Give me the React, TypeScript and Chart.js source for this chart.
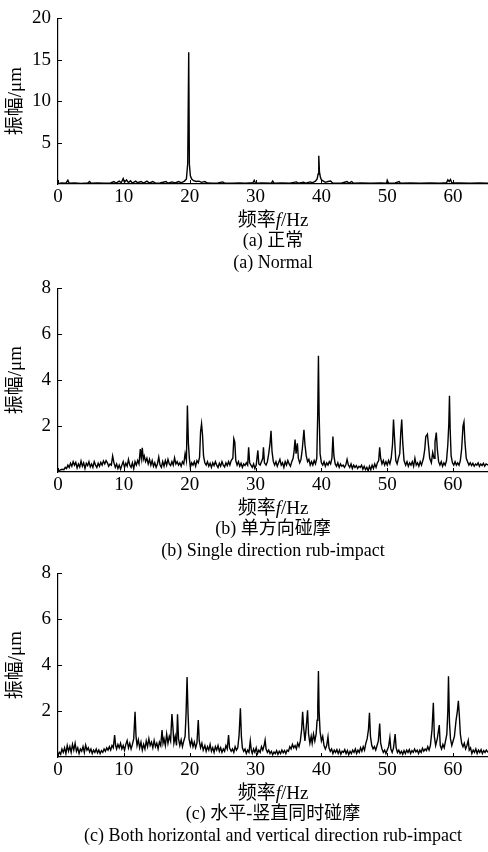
import React, { useEffect, useRef } from "react";
import { Chart, registerables } from "chart.js";

Chart.register(...registerables);

// ---- data (frequency Hz, amplitude μm) ----
const normalSpectrum: [number, number][] = [
  [0, 0.05], [0.5, 0.12], [1.2, 0.1], [1.5, 0.45], [1.7, 0.1], [2.5, 0.12], [3.5, 0.08], [4.5, 0.12], [4.8, 0.3], [5.0, 0.1],
  [6, 0.12], [7, 0.1], [8, 0.12], [8.5, 0.3], [8.8, 0.1], [9.3, 0.35], [9.6, 0.15], [9.9, 0.65], [10.1, 0.2], [10.4, 0.5],
  [10.7, 0.15], [11.0, 0.4], [11.3, 0.12], [11.8, 0.35], [12.1, 0.15], [12.6, 0.3], [13.0, 0.1], [13.5, 0.35], [13.9, 0.12], [14.4, 0.3],
  [14.8, 0.1], [15.5, 0.12], [16.4, 0.3], [16.7, 0.1], [17.3, 0.25], [17.8, 0.12], [18.3, 0.3], [18.7, 0.15], [19.2, 0.35], [19.5, 0.6],
  [19.7, 2.5], [19.85, 15.9], [19.95, 2.4], [20.1, 1.0], [20.3, 0.6], [20.6, 0.4], [21.0, 0.3], [21.4, 0.35], [21.8, 0.2], [22.3, 0.3],
  [22.7, 0.12], [23.5, 0.1], [24.3, 0.12], [25, 0.25], [25.3, 0.1], [26.5, 0.1], [27.5, 0.12], [28.5, 0.1], [29.6, 0.15], [29.8, 0.45],
  [30.0, 0.1], [31, 0.12], [32.4, 0.1], [32.6, 0.35], [32.8, 0.1], [34, 0.12], [35.2, 0.1], [36.2, 0.25], [36.5, 0.1], [37.3, 0.2],
  [37.6, 0.1], [38.3, 0.25], [38.6, 0.15], [39.1, 0.35], [39.35, 0.6], [39.5, 1.2], [39.6, 3.4], [39.7, 1.5], [39.85, 0.8], [40.0, 0.5],
  [40.3, 0.35], [40.6, 0.2], [41.0, 0.3], [41.4, 0.35], [41.7, 0.12], [42.3, 0.1], [43.1, 0.12], [43.9, 0.3], [44.2, 0.1], [44.6, 0.3],
  [44.9, 0.1], [46, 0.12], [47.5, 0.1], [49, 0.12], [49.9, 0.1], [50.0, 0.45], [50.2, 0.1], [51.2, 0.12], [51.8, 0.3], [52.0, 0.1],
  [53.5, 0.12], [55, 0.1], [56.5, 0.12], [58, 0.1], [59.0, 0.15], [59.2, 0.5], [59.4, 0.3], [59.6, 0.55], [59.8, 0.15], [61, 0.12],
  [62.5, 0.1], [64, 0.12], [65.3, 0.1],
];

const singleRubSpectrum: [number, number][] = [
  [0.0, 0.05], [0.3, 0.08], [0.6, 0.12], [0.9, 0.1], [1.1, 0.2], [1.3, 0.15], [1.5, 0.3], [1.7, 0.2], [1.9, 0.38], [2.1, 0.25],
  [2.3, 0.45], [2.5, 0.3], [2.7, 0.42], [2.9, 0.18], [3.1, 0.35], [3.3, 0.22], [3.5, 0.48], [3.7, 0.25], [3.9, 0.4], [4.1, 0.15],
  [4.3, 0.38], [4.5, 0.28], [4.7, 0.45], [4.9, 0.22], [5.1, 0.35], [5.3, 0.2], [5.5, 0.45], [5.7, 0.3], [5.9, 0.2], [6.1, 0.38],
  [6.3, 0.25], [6.5, 0.42], [6.7, 0.3], [6.9, 0.48], [7.1, 0.35], [7.3, 0.5], [7.5, 0.4], [7.7, 0.25], [7.9, 0.35], [8.1, 0.3],
  [8.3, 0.7], [8.5, 0.4], [8.7, 0.2], [8.9, 0.35], [9.1, 0.15], [9.3, 0.3], [9.5, 0.12], [9.7, 0.3], [9.9, 0.45], [10.1, 0.2],
  [10.3, 0.38], [10.5, 0.25], [10.7, 0.55], [10.9, 0.3], [11.1, 0.2], [11.3, 0.4], [11.5, 0.15], [11.7, 0.45], [11.9, 0.3], [12.1, 0.5],
  [12.3, 0.35], [12.5, 1.0], [12.65, 0.6], [12.8, 1.05], [12.95, 0.55], [13.1, 0.7], [13.3, 0.45], [13.5, 0.6], [13.7, 0.35], [13.9, 0.55],
  [14.1, 0.3], [14.3, 0.5], [14.5, 0.25], [14.7, 0.4], [14.9, 0.2], [15.1, 0.35], [15.3, 0.65], [15.5, 0.3], [15.7, 0.2], [15.9, 0.45],
  [16.1, 0.25], [16.3, 0.5], [16.5, 0.3], [16.7, 0.55], [16.9, 0.35], [17.1, 0.28], [17.3, 0.45], [17.5, 0.3], [17.7, 0.62], [17.9, 0.35],
  [18.1, 0.45], [18.3, 0.3], [18.5, 0.4], [18.7, 0.25], [18.9, 0.45], [19.1, 0.35], [19.3, 0.8], [19.5, 0.5], [19.65, 2.9], [19.8, 1.25],
  [19.95, 0.6], [20.1, 0.2], [20.3, 0.4], [20.5, 0.3], [20.7, 0.45], [20.9, 0.25], [21.1, 0.5], [21.3, 0.4], [21.5, 0.65], [21.65, 1.75],
  [21.8, 2.1], [21.95, 1.6], [22.1, 0.7], [22.3, 0.4], [22.5, 0.3], [22.7, 0.45], [22.9, 0.25], [23.1, 0.38], [23.3, 0.2], [23.5, 0.4],
  [23.7, 0.28], [23.9, 0.45], [24.1, 0.3], [24.3, 0.2], [24.5, 0.38], [24.7, 0.25], [24.9, 0.45], [25.1, 0.3], [25.3, 0.22], [25.5, 0.4],
  [25.7, 0.28], [25.9, 0.45], [26.1, 0.3], [26.3, 0.5], [26.55, 0.6], [26.7, 1.45], [26.85, 1.3], [27.0, 0.5], [27.2, 0.3], [27.4, 0.45],
  [27.6, 0.25], [27.8, 0.38], [28.0, 0.2], [28.2, 0.35], [28.4, 0.28], [28.6, 0.4], [28.8, 0.3], [28.95, 1.08], [29.1, 0.4], [29.3, 0.3],
  [29.5, 0.2], [29.7, 0.35], [29.9, 0.15], [30.1, 0.3], [30.35, 0.94], [30.5, 0.35], [30.7, 0.3], [30.9, 0.45], [31.1, 0.6], [31.2, 1.08],
  [31.35, 0.4], [31.6, 0.3], [31.8, 0.45], [32.0, 0.8], [32.2, 1.25], [32.35, 1.8], [32.5, 0.9], [32.7, 0.45], [32.9, 0.3], [33.1, 0.45],
  [33.3, 0.25], [33.5, 0.4], [33.7, 0.55], [33.9, 0.3], [34.1, 0.4], [34.3, 0.2], [34.5, 0.45], [34.7, 0.3], [34.9, 0.5], [35.1, 0.35],
  [35.3, 0.25], [35.5, 0.45], [35.7, 0.6], [35.85, 0.9], [36.0, 1.41], [36.15, 0.8], [36.35, 1.25], [36.5, 0.6], [36.7, 0.4], [36.9, 0.55],
  [37.1, 1.0], [37.35, 1.84], [37.5, 1.2], [37.7, 0.7], [37.9, 0.45], [38.1, 0.55], [38.3, 0.3], [38.5, 0.45], [38.7, 0.3], [38.9, 0.5],
  [39.1, 0.35], [39.3, 0.6], [39.45, 2.65], [39.55, 5.07], [39.65, 2.6], [39.8, 0.8], [40.0, 0.4], [40.2, 0.3], [40.4, 0.45], [40.6, 0.25],
  [40.8, 0.4], [41.0, 0.3], [41.2, 0.45], [41.4, 0.35], [41.6, 0.6], [41.75, 1.55], [41.9, 0.7], [42.1, 0.35], [42.3, 0.25], [42.5, 0.4],
  [42.7, 0.2], [42.9, 0.35], [43.1, 0.25], [43.3, 0.3], [43.5, 0.2], [43.7, 0.3], [43.9, 0.55], [44.1, 0.3], [44.3, 0.2], [44.5, 0.35],
  [44.7, 0.15], [44.9, 0.3], [45.1, 0.2], [45.3, 0.28], [45.5, 0.15], [45.7, 0.25], [45.9, 0.2], [46.1, 0.3], [46.3, 0.12], [46.5, 0.25],
  [46.7, 0.1], [46.9, 0.2], [47.1, 0.05], [47.3, 0.25], [47.5, 0.1], [47.7, 0.3], [47.9, 0.15], [48.1, 0.35], [48.3, 0.2], [48.5, 0.4],
  [48.7, 0.5], [48.85, 1.08], [49.0, 0.6], [49.2, 0.35], [49.4, 0.5], [49.6, 0.3], [49.8, 0.45], [50.0, 0.3], [50.2, 0.5], [50.4, 0.35],
  [50.6, 0.6], [50.8, 1.2], [50.95, 2.29], [51.1, 1.5], [51.3, 0.5], [51.5, 0.35], [51.7, 0.6], [51.9, 0.8], [52.05, 1.7], [52.2, 2.29],
  [52.35, 1.3], [52.55, 0.5], [52.8, 0.3], [53.0, 0.45], [53.2, 0.25], [53.4, 0.4], [53.6, 0.3], [53.8, 0.45], [54.0, 0.25], [54.2, 0.6],
  [54.4, 0.3], [54.6, 0.4], [54.8, 0.25], [55.0, 0.45], [55.2, 0.3], [55.5, 0.6], [55.7, 1.0], [55.85, 1.55], [56.0, 1.6], [56.1, 1.65],
  [56.25, 1.2], [56.45, 0.6], [56.7, 0.4], [56.9, 0.85], [57.1, 0.6], [57.25, 1.3], [57.45, 1.72], [57.6, 1.0], [57.8, 0.45], [58.0, 0.3],
  [58.2, 0.45], [58.4, 0.25], [58.6, 0.4], [58.8, 0.3], [59.0, 0.5], [59.2, 1.2], [59.35, 2.1], [59.45, 3.32], [59.55, 1.9], [59.7, 0.7],
  [59.9, 0.4], [60.1, 0.3], [60.3, 0.45], [60.5, 0.3], [60.7, 0.4], [60.9, 0.3], [61.1, 0.5], [61.3, 1.0], [61.5, 2.0], [61.65, 2.18],
  [61.8, 1.3], [62.0, 0.6], [62.2, 0.45], [62.4, 0.3], [62.6, 0.4], [62.8, 0.28], [63.0, 0.38], [63.2, 0.25], [63.4, 0.35], [63.6, 0.3],
  [63.8, 0.4], [64.0, 0.25], [64.2, 0.35], [64.4, 0.28], [64.6, 0.38], [64.8, 0.25], [65.0, 0.35], [65.3, 0.3],
];

const dualRubSpectrum: [number, number][] = [
  [0.0, 0.1], [0.2, 0.2], [0.4, 0.12], [0.6, 0.35], [0.8, 0.2], [1.0, 0.4], [1.2, 0.15], [1.4, 0.5], [1.6, 0.25], [1.8, 0.45],
  [2.0, 0.2], [2.2, 0.55], [2.4, 0.3], [2.6, 0.6], [2.8, 0.25], [3.0, 0.4], [3.2, 0.15], [3.4, 0.35], [3.6, 0.25], [3.8, 0.45],
  [4.0, 0.2], [4.2, 0.52], [4.4, 0.3], [4.6, 0.4], [4.8, 0.22], [5.0, 0.35], [5.2, 0.15], [5.4, 0.3], [5.6, 0.2], [5.8, 0.35],
  [6.0, 0.18], [6.2, 0.3], [6.4, 0.15], [6.6, 0.28], [6.8, 0.2], [7.0, 0.35], [7.2, 0.25], [7.4, 0.4], [7.6, 0.3], [7.8, 0.45],
  [8.0, 0.3], [8.2, 0.5], [8.4, 0.4], [8.6, 0.96], [8.75, 0.5], [8.9, 0.35], [9.1, 0.55], [9.3, 0.4], [9.5, 0.6], [9.7, 0.35],
  [9.9, 0.5], [10.1, 0.3], [10.3, 0.55], [10.5, 0.72], [10.7, 0.4], [10.9, 0.6], [11.1, 0.35], [11.3, 0.55], [11.5, 0.8], [11.7, 1.97],
  [11.85, 0.9], [12.0, 0.5], [12.2, 0.75], [12.4, 0.4], [12.6, 0.65], [12.8, 0.3], [13.0, 0.55], [13.2, 0.35], [13.4, 0.7], [13.6, 0.45],
  [13.8, 0.8], [14.0, 0.5], [14.2, 0.65], [14.4, 0.4], [14.6, 0.72], [14.8, 0.45], [15.0, 0.6], [15.2, 0.35], [15.4, 0.65], [15.6, 0.5],
  [15.8, 1.17], [15.95, 0.6], [16.1, 0.8], [16.3, 0.5], [16.5, 1.0], [16.7, 0.6], [16.9, 0.9], [17.1, 0.7], [17.3, 1.87], [17.45, 1.3],
  [17.6, 0.6], [17.8, 0.9], [18.0, 0.5], [18.15, 1.86], [18.3, 0.8], [18.5, 0.5], [18.7, 0.75], [18.9, 0.45], [19.1, 0.7], [19.3, 0.9],
  [19.45, 1.9], [19.6, 3.49], [19.75, 1.9], [19.9, 0.8], [20.1, 0.5], [20.3, 0.75], [20.5, 0.45], [20.7, 0.65], [20.9, 0.4], [21.1, 0.6],
  [21.3, 1.61], [21.45, 0.7], [21.65, 0.4], [21.85, 0.6], [22.05, 0.3], [22.3, 0.5], [22.5, 0.25], [22.7, 0.45], [22.9, 0.3], [23.1, 0.55],
  [23.3, 0.25], [23.5, 0.4], [23.7, 0.2], [23.9, 0.45], [24.1, 0.3], [24.3, 0.5], [24.5, 0.25], [24.7, 0.4], [24.9, 0.2], [25.1, 0.35],
  [25.3, 0.25], [25.5, 0.5], [25.7, 0.35], [25.9, 0.96], [26.05, 0.4], [26.3, 0.25], [26.5, 0.35], [26.7, 0.2], [26.9, 0.45], [27.1, 0.3],
  [27.3, 0.4], [27.5, 0.95], [27.7, 2.12], [27.85, 0.9], [28.0, 0.4], [28.2, 0.25], [28.4, 0.35], [28.6, 0.15], [28.8, 0.3], [29.0, 0.2],
  [29.2, 0.7], [29.35, 0.3], [29.5, 0.15], [29.7, 0.35], [29.9, 0.2], [30.1, 0.4], [30.3, 0.15], [30.5, 0.3], [30.7, 0.2], [30.9, 0.45],
  [31.1, 0.3], [31.3, 0.5], [31.45, 0.74], [31.6, 0.35], [31.8, 0.2], [32.0, 0.3], [32.2, 0.15], [32.4, 0.25], [32.6, 0.1], [32.8, 0.22],
  [33.0, 0.15], [33.2, 0.28], [33.4, 0.12], [33.6, 0.25], [33.8, 0.15], [34.0, 0.3], [34.2, 0.18], [34.4, 0.28], [34.6, 0.15], [34.8, 0.3],
  [35.0, 0.25], [35.2, 0.45], [35.4, 0.35], [35.6, 0.55], [35.8, 0.4], [36.0, 0.5], [36.2, 0.35], [36.4, 0.6], [36.6, 0.45], [36.8, 0.7],
  [37.0, 1.2], [37.15, 1.97], [37.3, 1.3], [37.5, 0.7], [37.7, 1.3], [37.9, 2.04], [38.05, 1.0], [38.25, 0.6], [38.45, 0.9], [38.6, 0.6],
  [38.8, 1.0], [39.0, 0.7], [39.2, 1.0], [39.35, 1.6], [39.45, 2.2], [39.55, 3.75], [39.65, 2.0], [39.8, 1.1], [40.0, 0.7], [40.2, 0.9],
  [40.4, 0.5], [40.6, 0.35], [40.8, 0.5], [41.0, 0.88], [41.15, 0.4], [41.35, 0.25], [41.55, 0.35], [41.75, 0.15], [41.95, 0.3], [42.15, 0.2],
  [42.35, 0.32], [42.55, 0.15], [42.75, 0.3], [42.95, 0.12], [43.15, 0.25], [43.35, 0.2], [43.55, 0.32], [43.75, 0.15], [43.95, 0.28], [44.15, 0.1],
  [44.35, 0.25], [44.55, 0.15], [44.75, 0.3], [44.95, 0.2], [45.15, 0.35], [45.35, 0.15], [45.55, 0.3], [45.75, 0.2], [45.95, 0.4], [46.15, 0.25],
  [46.35, 0.45], [46.55, 0.3], [46.75, 0.6], [46.95, 0.8], [47.15, 1.2], [47.3, 1.93], [47.45, 0.9], [47.65, 0.5], [47.85, 0.35], [48.05, 0.45],
  [48.25, 0.3], [48.45, 0.5], [48.65, 0.7], [48.85, 1.46], [49.0, 0.6], [49.2, 0.35], [49.4, 0.2], [49.6, 0.3], [49.8, 0.15], [50.0, 0.3],
  [50.2, 0.45], [50.4, 0.85], [50.55, 0.35], [50.75, 0.2], [50.95, 0.4], [51.2, 1.0], [51.35, 0.4], [51.55, 0.2], [51.75, 0.3], [51.95, 0.15],
  [52.15, 0.25], [52.35, 0.12], [52.55, 0.28], [52.75, 0.15], [52.95, 0.3], [53.15, 0.2], [53.35, 0.32], [53.55, 0.15], [53.75, 0.28], [53.95, 0.2],
  [54.15, 0.35], [54.35, 0.22], [54.55, 0.3], [54.75, 0.15], [54.95, 0.3], [55.15, 0.2], [55.35, 0.38], [55.55, 0.25], [55.75, 0.35], [55.95, 0.28],
  [56.15, 0.45], [56.35, 0.3], [56.55, 0.5], [56.8, 1.2], [57.0, 2.36], [57.15, 0.9], [57.35, 0.5], [57.6, 0.8], [57.9, 1.39], [58.05, 0.5],
  [58.25, 0.35], [58.45, 0.55], [58.65, 0.4], [58.85, 0.7], [59.05, 1.0], [59.2, 2.0], [59.3, 3.52], [59.45, 1.5], [59.6, 0.8], [59.8, 0.5],
  [60.0, 0.7], [60.2, 0.9], [60.45, 1.6], [60.65, 2.0], [60.8, 2.45], [60.95, 1.8], [61.1, 1.0], [61.3, 0.6], [61.5, 0.45], [61.7, 0.6],
  [61.9, 0.35], [62.1, 0.5], [62.3, 0.72], [62.45, 0.3], [62.65, 0.4], [62.85, 0.15], [63.05, 0.3], [63.25, 0.2], [63.45, 0.35], [63.65, 0.15],
  [63.85, 0.3], [64.05, 0.2], [64.25, 0.32], [64.45, 0.15], [64.65, 0.28], [64.85, 0.2], [65.05, 0.3], [65.3, 0.2],
];

const xTickValues = [0, 10, 20, 30, 40, 50, 60];
const yTicksNormal = [5, 10, 15, 20];
const yTicksRub = [2, 4, 6, 8];

const yAxisTitle = "振幅/μm";
const captions = [
  ["(a) 正常", "(a) Normal"],
  ["(b) 单方向碰摩", "(b) Single direction rub-impact"],
  ["(c) 水平-竖直同时碰摩", "(c) Both horizontal and vertical direction rub-impact"],
];

const SERIF = '"Liberation Serif", "Times New Roman", "Noto Sans CJK SC", serif';
const W = 488;
const AXIS_LEFT = 58;
const X_MAX = 65.3;

const tickMarks = {
  id: "tickMarks",
  afterDraw(chart: any) {
    const { ctx, chartArea, scales } = chart;
    const xs = scales.x;
    const ys = scales.y;
    ctx.save();
    ctx.strokeStyle = "#000";
    ctx.lineWidth = 1;
    ctx.beginPath();
    for (const t of xs.ticks) {
      const px = Math.round(xs.getPixelForValue(t.value)) + 0.5;
      ctx.moveTo(px, chartArea.bottom);
      ctx.lineTo(px, chartArea.bottom - 4);
    }
    for (const t of ys.ticks) {
      const py = Math.round(ys.getPixelForValue(t.value)) + 0.5;
      ctx.moveTo(chartArea.left, py);
      ctx.lineTo(chartArea.left + 4, py);
    }
    ctx.stroke();
    ctx.restore();
  },
};

type PanelProps = {
  top: number;
  height: number;
  plotTop: number;
  plotBottom: number;
  yMax: number;
  yTicks: number[];
  data: [number, number][];
};

function Panel({ top, height, plotTop, plotBottom, yMax, yTicks, data }: PanelProps) {
  const ref = useRef<HTMLCanvasElement | null>(null);
  useEffect(() => {
    if (!ref.current) return;
    const chart = new Chart(ref.current, {
      type: "line",
      data: {
        datasets: [
          {
            data: data.map(([x, y]) => ({ x, y })),
            borderColor: "#000",
            borderWidth: 1.4,
            pointRadius: 0,
            tension: 0,
            fill: false,
          },
        ],
      },
      options: {
        animation: false,
        responsive: false,
        maintainAspectRatio: false,
        events: [],
        plugins: { legend: { display: false }, tooltip: { enabled: false } },
        layout: { padding: { top: plotTop, left: 0, right: 0, bottom: 0 } },
        scales: {
          x: {
            type: "linear",
            min: 0,
            max: X_MAX,
            afterBuildTicks: (s: any) => {
              s.ticks = xTickValues.map((v) => ({ value: v }));
            },
            afterFit: (s: any) => {
              s.height = height - plotBottom;
            },
            grid: { display: false, drawTicks: false },
            border: { display: true, color: "#000", width: 1.2 },
            ticks: {
              color: "#000",
              font: { family: SERIF, size: 19 },
              padding: 2,
              maxRotation: 0,
              autoSkip: false,
            },
          },
          y: {
            type: "linear",
            min: 0,
            max: yMax,
            afterBuildTicks: (s: any) => {
              s.ticks = yTicks.map((v) => ({ value: v }));
            },
            afterFit: (s: any) => {
              s.width = AXIS_LEFT;
            },
            grid: { display: false, drawTicks: false },
            border: { display: true, color: "#000", width: 1.2 },
            ticks: {
              color: "#000",
              font: { family: SERIF, size: 19 },
              padding: 7,
              autoSkip: false,
            },
            title: {
              display: true,
              text: yAxisTitle,
              color: "#000",
              font: { family: SERIF, size: 19 },
              padding: { top: 5, bottom: 0 },
            },
          },
        },
      },
      plugins: [tickMarks],
    } as any);
    return () => chart.destroy();
  }, []);
  return (
    <canvas
      ref={ref}
      width={W}
      height={height}
      style={{ position: "absolute", left: 0, top, width: W, height }}
    />
  );
}

function TextLine({ center, size, children }: { center: number; size: number; children: React.ReactNode }) {
  return (
    <div
      style={{
        position: "absolute",
        left: AXIS_LEFT - 60,
        width: W - AXIS_LEFT + 120,
        top: center - size / 2,
        height: size,
        lineHeight: `${size}px`,
        fontSize: size,
        fontFamily: SERIF,
        color: "#000",
        textAlign: "center",
        whiteSpace: "nowrap",
      }}
    >
      {children}
    </div>
  );
}

const panels = [
  { top: 0, height: 210, plotTop: 13, plotBottom: 184, yMax: 20, yTicks: yTicksNormal, data: normalSpectrum },
  { top: 270, height: 225, plotTop: 15, plotBottom: 202, yMax: 8, yTicks: yTicksRub, data: singleRubSpectrum },
  { top: 555, height: 225, plotTop: 18, plotBottom: 202, yMax: 8, yTicks: yTicksRub, data: dualRubSpectrum },
];

export default function App() {
  return (
    <div style={{ position: "absolute", left: 0, top: 0, width: W, height: 852, background: "#fff", overflow: "hidden" }}>
      {panels.map((p, i) => {
        const axisY = p.top + p.plotBottom;
        return (
          <React.Fragment key={i}>
            <Panel {...p} />
            <TextLine center={axisY + 35} size={19}>
              频率<i>f</i>/Hz
            </TextLine>
            <TextLine center={axisY + 56} size={18}>
              {captions[i][0]}
            </TextLine>
            <TextLine center={axisY + 78} size={18}>
              {captions[i][1]}
            </TextLine>
          </React.Fragment>
        );
      })}
    </div>
  );
}
